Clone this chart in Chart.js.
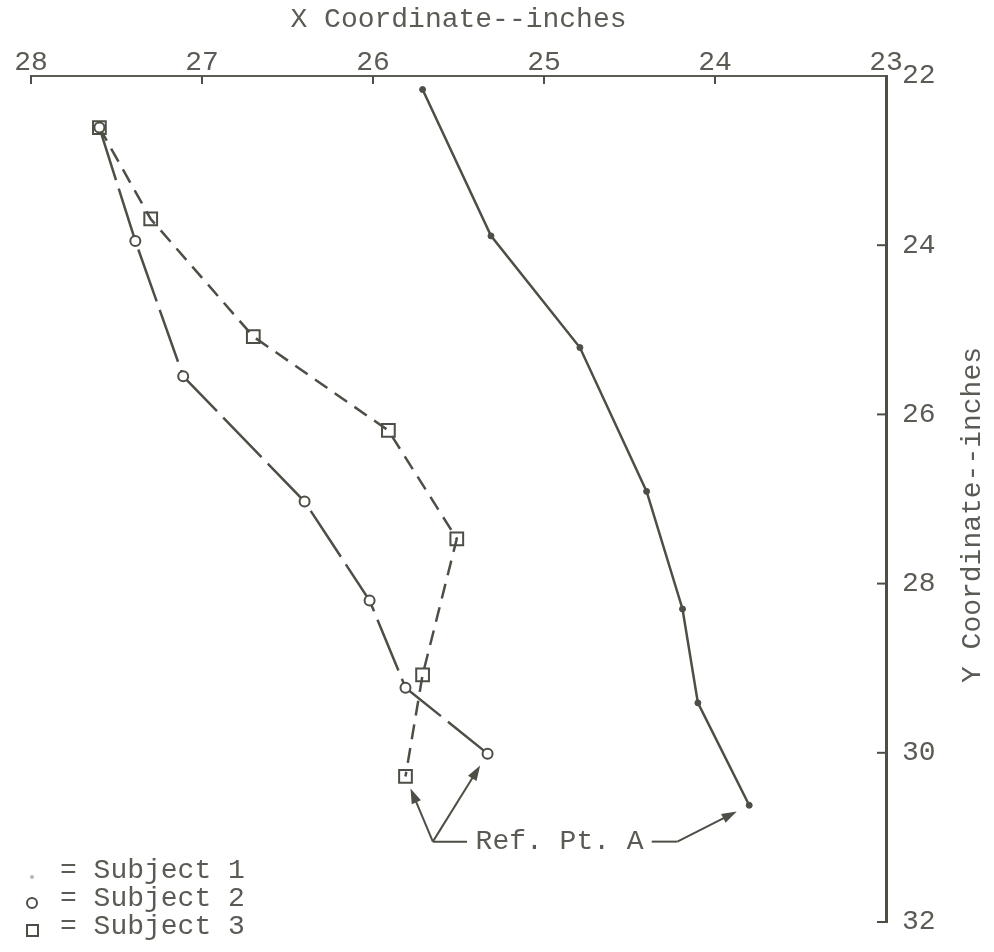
<!DOCTYPE html>
<html>
<head>
<meta charset="utf-8">
<script src="https://cdn.jsdelivr.net/npm/chart.js@4.4.1/dist/chart.umd.min.js"></script>
<style>
  html, body { margin: 0; padding: 0; background: #fff; }
  #wrap { width: 994px; height: 952px; position: relative; }
</style>
</head>
<body>
<div id="wrap"><canvas id="chart"></canvas></div>
<script>
// tick values (both axes run "backwards")
const xTicks = [28, 27, 26, 25, 24, 23];
const yTicks = [22, 24, 26, 28, 30, 32];

// inches
const subject1X = [25.71, 25.31, 24.79, 24.40, 24.19, 24.10, 23.80];
const subject1Y = [22.16, 23.89, 25.21, 26.91, 28.30, 29.41, 30.62];

const subject2X = [27.60, 27.39, 27.11, 26.40, 26.02, 25.81, 25.33];
const subject2Y = [22.61, 23.95, 25.55, 27.03, 28.20, 29.23, 30.01];

const subject3X = [27.60, 27.30, 26.70, 25.91, 25.51, 25.71, 25.81];
const subject3Y = [22.61, 23.69, 25.08, 26.19, 27.47, 29.08, 30.28];

const seriesNames = ['Subject 1', 'Subject 2', 'Subject 3'];

// "Ref. Pt. A" note, placed in data units
const refLabel = 'Ref. Pt. A';
const refText = { x: 25.40, y: 31.05 };
const refLeftBase = { x: 25.65, y: 31.05 };
const refLeftEnd = { x: 25.45, y: 31.05 };
const refRightStart = { x: 24.37, y: 31.05 };
const refRightBend = { x: 24.22, y: 31.05 };

const INK = '#4b4f45';
const TEXT = '#5b5b55';
const FONT = "'Liberation Mono', 'DejaVu Sans Mono', monospace";

const toPoints = (xs, ys) => xs.map((v, i) => ({ x: v, y: ys[i] }));

function arrow(ctx, x1, y1, x2, y2) {
    const a = Math.atan2(y2 - y1, x2 - x1);
    ctx.beginPath();
    ctx.moveTo(x1, y1);
    ctx.lineTo(x2 - 8 * Math.cos(a), y2 - 8 * Math.sin(a));
    ctx.stroke();
    ctx.beginPath();
    ctx.moveTo(x2, y2);
    ctx.lineTo(x2 - 15 * Math.cos(a) + 5 * Math.sin(a), y2 - 15 * Math.sin(a) - 5 * Math.cos(a));
    ctx.lineTo(x2 - 15 * Math.cos(a) - 5 * Math.sin(a), y2 - 15 * Math.sin(a) + 5 * Math.cos(a));
    ctx.closePath();
    ctx.fill();
}

// stop the arrow short of the marker it points at
function tipNear(px, py, bx, by, gap) {
    const d = Math.hypot(bx - px, by - py);
    return [px + (bx - px) / d * gap, py + (by - py) / d * gap];
}

const decorations = {
    id: 'decorations',
    afterDraw(chart) {
        const { ctx, scales: { x, y } } = chart;
        const area = chart.chartArea;
        ctx.save();
        ctx.strokeStyle = INK;
        ctx.fillStyle = INK;
        ctx.lineWidth = 2;

        // tick marks point into the plot
        xTicks.forEach(v => {
            const px = x.getPixelForValue(v);
            ctx.beginPath();
            ctx.moveTo(px, area.top);
            ctx.lineTo(px, area.top + 8);
            ctx.stroke();
        });
        yTicks.slice(1).forEach(v => {
            const py = y.getPixelForValue(v);
            ctx.beginPath();
            ctx.moveTo(area.right, py);
            ctx.lineTo(area.right - 9, py);
            ctx.stroke();
        });

        // y axis title, reads upwards
        ctx.fillStyle = TEXT;
        ctx.font = '28px ' + FONT;
        ctx.textAlign = 'center';
        ctx.textBaseline = 'middle';
        ctx.save();
        ctx.translate(973, (area.top + area.bottom) / 2 + 16);
        ctx.rotate(-Math.PI / 2);
        ctx.fillText('Y Coordinate--inches', 0, 0);
        ctx.restore();

        // Ref. Pt. A note
        const px = p => [x.getPixelForValue(p.x), y.getPixelForValue(p.y)];
        ctx.textAlign = 'left';
        const [tx, ty] = px(refText);
        ctx.fillText(refLabel, tx, ty);

        ctx.strokeStyle = INK;
        ctx.fillStyle = INK;
        const [bx, by] = px(refLeftBase);
        const [ex, ey] = px(refLeftEnd);
        ctx.beginPath();
        ctx.moveTo(bx, by);
        ctx.lineTo(ex, ey);
        ctx.stroke();

        const last = (xs, ys) => [x.getPixelForValue(xs[xs.length - 1]), y.getPixelForValue(ys[ys.length - 1])];
        const [s3x, s3y] = last(subject3X, subject3Y);
        const [s2x, s2y] = last(subject2X, subject2Y);
        const [s1x, s1y] = last(subject1X, subject1Y);
        arrow(ctx, bx, by, ...tipNear(s3x, s3y, bx, by, 13));
        arrow(ctx, bx, by, ...tipNear(s2x, s2y, bx, by, 14));

        const [rx, ry] = px(refRightStart);
        const [kx, ky] = px(refRightBend);
        ctx.beginPath();
        ctx.moveTo(rx, ry);
        ctx.lineTo(kx, ky);
        ctx.stroke();
        arrow(ctx, kx, ky, ...tipNear(s1x, s1y, kx, ky, 14));

        // key in the lower left corner
        ctx.textAlign = 'left';
        seriesNames.forEach((name, i) => {
            const ly = area.bottom - 51 + i * 28;
            ctx.fillStyle = TEXT;
            ctx.fillText('= ' + name, 60, ly);
            ctx.strokeStyle = INK;
            ctx.lineWidth = 2;
            ctx.beginPath();
            if (i === 0) {
                ctx.fillStyle = '#b8b8b0';
                ctx.arc(32, ly + 6, 2, 0, Math.PI * 2);
                ctx.fill();
            } else if (i === 1) {
                ctx.arc(32, ly + 4, 5, 0, Math.PI * 2);
                ctx.stroke();
            } else {
                ctx.rect(27, ly - 2, 11, 11);
                ctx.stroke();
            }
        });
        ctx.restore();
    }
};

new Chart(document.getElementById('chart'), {
    type: 'scatter',
    data: {
        datasets: [
            {
                label: seriesNames[0],
                data: toPoints(subject1X, subject1Y),
                showLine: true,
                borderColor: INK,
                borderWidth: 2.5,
                pointStyle: 'circle',
                pointRadius: 3,
                pointBackgroundColor: INK,
                pointBorderColor: INK,
                pointBorderWidth: 1
            },
            {
                label: seriesNames[1],
                data: toPoints(subject2X, subject2Y),
                showLine: true,
                borderColor: INK,
                borderWidth: 2.5,
                borderDash: [55, 9],
                pointStyle: 'circle',
                pointRadius: 5,
                pointBackgroundColor: '#fff',
                pointBorderColor: INK,
                pointBorderWidth: 2
            },
            {
                label: seriesNames[2],
                data: toPoints(subject3X, subject3Y),
                showLine: true,
                borderColor: INK,
                borderWidth: 2.5,
                borderDash: [15, 9],
                pointStyle: 'rect',
                pointRadius: 9,
                pointBackgroundColor: 'rgba(255,255,255,0)',
                pointBorderColor: INK,
                pointBorderWidth: 2
            }
        ]
    },
    options: {
        responsive: true,
        maintainAspectRatio: false,
        animation: false,
        clip: false,
        layout: {
            padding: { left: 31, top: 0, right: 0, bottom: 23 }
        },
        plugins: {
            legend: { display: false },
            tooltip: { enabled: false }
        },
        scales: {
            x: {
                type: 'linear',
                position: 'top',
                min: 23,
                max: 28,
                reverse: true,
                afterFit: scale => { scale.height = 76; },
                afterBuildTicks: scale => { scale.ticks = xTicks.map(v => ({ value: v })); },
                grid: { display: false, drawTicks: false },
                border: { display: true, color: '#5a5e54', width: 2 },
                ticks: {
                    color: TEXT,
                    padding: -1,
                    font: { family: FONT, size: 28, lineHeight: 1 }
                },
                title: {
                    display: true,
                    text: 'X Coordinate--inches',
                    color: TEXT,
                    padding: { top: 6, bottom: 0 },
                    font: { family: FONT, size: 28, lineHeight: 1 }
                }
            },
            y: {
                type: 'linear',
                position: 'right',
                min: 22,
                max: 32,
                reverse: true,
                afterFit: scale => { scale.width = 108; },
                afterBuildTicks: scale => { scale.ticks = yTicks.map(v => ({ value: v })); },
                grid: { display: false, drawTicks: false },
                border: { display: true, color: INK, width: 3 },
                ticks: {
                    color: TEXT,
                    padding: 16,
                    font: { family: FONT, size: 28, lineHeight: 1 }
                }
            }
        }
    },
    plugins: [decorations]
});
</script>
</body>
</html>
